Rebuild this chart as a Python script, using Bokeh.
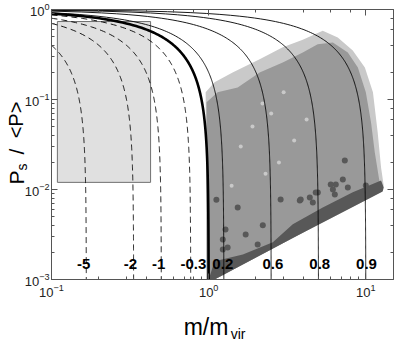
import numpy as np
from bokeh.plotting import figure
from bokeh.models import Range1d, LogAxis, Label, CustomJSTickFormatter
from bokeh.core.properties import value
from bokeh.embed import file_html
from bokeh.resources import INLINE

# ---- axes limits of the plotted box ----
x_lim = [0.1, 15.0]
y_lim = [1e-3, 1.0]

# ---- model curve family (parameter labels; curve reaches P->0 at m = 1/(1-a)) ----
curve_params = [-5, -2, -1, -0.3, 0, 0.2, 0.6, 0.8, 0.9]
curve_kind = ["dash", "dash", "dash", "dash", "thick", "thin", "thin", "thin", "thin"]

# ---- curve labels along the bottom ----
label_text = ["-5", "-2", "-1", "-0.3", "0.2", "0.6", "0.8", "0.9"]
label_m = [0.16, 0.318, 0.48, 0.80, 1.23, 2.56, 5.09, 10.1]
label_P = 0.00147

# ---- shaded box ----
box_m = [0.109, 0.427]
box_P = [0.012, 0.735]

# ---- halo cloud outline (light gray) ----
outer_m = [0.97, 0.957, 1.09, 1.42, 2.11, 2.96, 3.97, 5.32, 6.63, 8.26, 9.86, 11.1, 11.9, 12.5, 13.0, 12.5, 3.43, 1.09]
outer_P = [0.001, 0.12, 0.155, 0.2, 0.28, 0.38, 0.46, 0.58, 0.49, 0.35, 0.227, 0.12, 0.043, 0.0176, 0.011, 0.0093, 0.0029, 0.001]

# ---- main cloud (medium gray) ----
main_m = [0.97, 0.97, 1.14, 1.53, 2.11, 2.96, 3.97, 4.94, 6.17, 7.68, 8.9, 10.0, 10.8, 11.4, 12.1, 12.5, 3.43, 1.09]
main_P = [0.001, 0.093, 0.12, 0.136, 0.2, 0.258, 0.333, 0.41, 0.43, 0.333, 0.227, 0.12, 0.055, 0.026, 0.0136, 0.01, 0.0029, 0.001]

# ---- dense dark band along the lower edge ----
dark_m = [1.0, 1.09, 1.65, 2.56, 3.43, 5.32, 8.26, 12.5, 13.0, 12.8, 3.43, 1.09]
dark_P = [0.001, 0.0016, 0.0019, 0.0026, 0.0041, 0.0063, 0.0093, 0.0126, 0.0105, 0.0095, 0.0029, 0.001]

# ---- scattered dark points above the band ----
dots_m = [1.72, 1.23, 1.32, 2.87, 3.80, 4.40, 4.95, 6.17, 6.44, 7.68, 10.0, 7.35, 7.14, 5.98, 4.80, 3.85, 4.60, 6.35, 1.28, 2.21, 1.23, 2.05, 1.12, 1.53]
dots_P = [0.00316, 0.00278, 0.00227, 0.00774, 0.00755, 0.00815, 0.00926, 0.01, 0.01136, 0.0105, 0.0111, 0.021, 0.0129, 0.0114, 0.00926, 0.00774, 0.00717, 0.0088, 0.0036, 0.004, 0.00216, 0.00245, 0.0077, 0.0063]

# ---- light speckles inside the main cloud ----
spk_m = [2.2, 2.5, 1.9, 3.0, 1.6, 4.2, 2.8, 1.4, 3.5, 2.3]
spk_P = [0.09, 0.07, 0.05, 0.12, 0.03, 0.06, 0.02, 0.011, 0.035, 0.015]

FONT = "Liberation Sans"

# canvas layout (pixels): box of 342 x 270 with margins around it
W, H = 396, 342
PAD_L, PAD_R, PAD_T, PAD_B = 51, 3, 9, 63
BOX_W, BOX_H = W - PAD_L - PAD_R, H - PAD_T - PAD_B
xdec = BOX_W / np.log10(x_lim[1] / x_lim[0])
ydec = BOX_H / np.log10(y_lim[1] / y_lim[0])
x_range = Range1d(x_lim[0] / 10 ** (PAD_L / xdec), x_lim[1] * 10 ** (PAD_R / xdec))
y_range = Range1d(y_lim[0] / 10 ** (PAD_B / ydec), y_lim[1] * 10 ** (PAD_T / ydec))

p = figure(x_axis_type="log", y_axis_type="log", x_range=x_range, y_range=y_range,
           width=W, height=H, min_border=0,
           output_backend="svg", toolbar_location=None)
p.grid.visible = False
p.outline_line_color = None
p.background_fill_color = "white"
p.border_fill_color = "white"

AX_COL = "#555555"


def style_axis(ax, labels=True, standoff=4):
    ax.major_tick_in = 6
    ax.major_tick_out = 0
    ax.minor_tick_in = 3
    ax.minor_tick_out = 0
    ax.axis_line_color = AX_COL
    ax.major_tick_line_color = AX_COL
    ax.minor_tick_line_color = AX_COL
    if labels:
        ax.major_label_text_font = FONT
        ax.major_label_text_font_size = "13px"
        ax.major_label_text_color = "#222222"
        ax.major_label_standoff = standoff
    else:
        ax.major_label_standoff = 0


xa = p.xaxis[0]
xa.fixed_location = y_lim[0]
xa.bounds = (x_lim[0], x_lim[1])
style_axis(xa, standoff=4)
ya = p.yaxis[0]
ya.fixed_location = x_lim[0]
ya.bounds = (y_lim[0], y_lim[1])
style_axis(ya, standoff=2)

top = LogAxis(formatter=CustomJSTickFormatter(code="return ''"),
              fixed_location=y_lim[1], bounds=(x_lim[0], x_lim[1]))
style_axis(top, labels=False)
p.add_layout(top, "above")
right = LogAxis(formatter=CustomJSTickFormatter(code="return ''"),
                fixed_location=x_lim[1], bounds=(y_lim[0], y_lim[1]))
style_axis(right, labels=False)
p.add_layout(right, "right")

# shaded box
p.quad(left=[box_m[0]], right=[box_m[1]], bottom=[box_P[0]], top=[box_P[1]],
       fill_color="#e0e0e0", line_color="#707070", line_width=1)

# cloud
p.patch(outer_m, outer_P, fill_color="#c9c9c9", line_color=None)
p.patch(main_m, main_P, fill_color="#999999", line_color=None)
p.scatter(spk_m, spk_P, size=4, fill_color="#c9c9c9", line_color=None)
p.patch(dark_m, dark_P, fill_color="#585858", line_color=None)
p.scatter(dots_m, dots_P, size=6, fill_color="#585858", line_color=None)

# model curves, drawn down to the bottom of the box
for a, kind in zip(curve_params, curve_kind):
    mc = 1.0 / (1.0 - a)
    s = np.geomspace(1.0 - x_lim[0] / mc, y_lim[0], 300)
    m = mc * (1.0 - s)
    if kind == "dash":
        p.line(m, s, line_color="black", line_width=0.9, line_dash="6 4")
    elif kind == "thick":
        p.line(m, s, line_color="black", line_width=2.6)
    else:
        p.line(m, s, line_color="black", line_width=0.9)

p.text(x=label_m, y=[label_P] * len(label_m), text=label_text,
       text_font=value(FONT), text_font_style="bold", text_font_size="15px",
       text_align="center", text_baseline="middle", text_color="black")


# axis titles, anchored in data units outside the box
def title(txt, x, y, size, angle=0.0):
    p.add_layout(Label(x=x, y=y, text=txt, angle=angle, text_font=FONT,
                       text_font_size=size, text_baseline="alphabetic",
                       text_align="left", text_color="black"))


title("m/m", 0.693, 2.93e-4, "23px")
title("vir", 1.38, 2.45e-4, "14px")
title("P", 0.0598, 0.01136, "21px", np.pi / 2)
title("s", 0.065, 0.0163, "14px", np.pi / 2)
title("/", 0.0598, 0.0245, "21px", np.pi / 2)
title("<P>", 0.0598, 0.0370, "20px", np.pi / 2)

open("out.html", "w").write(file_html(p, INLINE))
